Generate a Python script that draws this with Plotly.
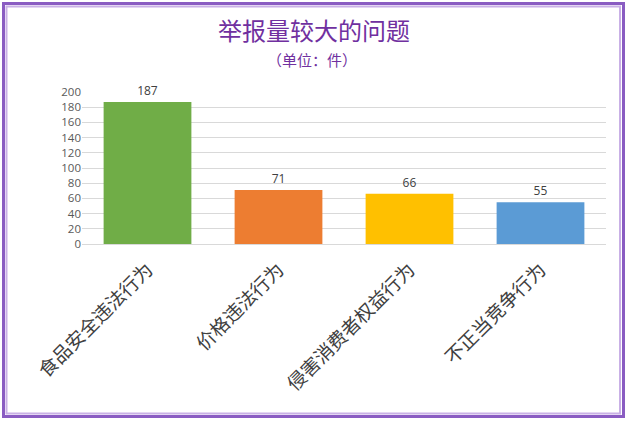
import plotly.graph_objects as go

categories = ["食品安全违法行为", "价格违法行为", "侵害消费者权益行为", "不正当竞争行为"]
values = [187, 71, 66, 55]
colors = ["#70AD47", "#ED7D31", "#FFC000", "#5B9BD5"]
y_ticks = [0, 20, 40, 60, 80, 100, 120, 140, 160, 180, 200]

W, H = 628, 421
L, R, T, B = 82, 22, 92, 177
PW, PH = W - L - R, H - T - B

def px(x):
    return (x - L) / PW

def py(y):
    return (H - B - y) / PH

fig = go.Figure()
fig.add_trace(go.Bar(
    x=categories, y=values,
    marker=dict(color=colors, line=dict(width=0)),
    text=[str(v) for v in values], textposition="outside",
    textfont=dict(family="Open Sans, Liberation Sans, sans-serif", size=12, color="#404040"),
    cliponaxis=False,
))

fig.update_layout(
    width=W, height=H,
    margin=dict(l=L, r=R, t=T, b=B),
    paper_bgcolor="white", plot_bgcolor="white",
    showlegend=False,
    bargap=0.33,
    xaxis=dict(
        tickangle=-45,
        tickfont=dict(family="Noto Sans CJK SC", size=19, color="#404040"),
        showline=True, linecolor="#D9D9D9", linewidth=1,
        ticks="", showgrid=False, ticklabelstandoff=6,
    ),
    yaxis=dict(
        range=[0, 200], tickvals=y_ticks,
        tickfont=dict(family="Open Sans, Liberation Sans, sans-serif", size=11.5, color="#595959"),
        showgrid=True, gridcolor="#D9D9D9", gridwidth=1,
        zeroline=False, showline=False, ticks="",
    ),
    annotations=[
        dict(text="举报量较大的问题", xref="paper", yref="paper",
             x=px(314), y=py(29), xanchor="center", yanchor="middle", showarrow=False,
             font=dict(family="Noto Sans CJK SC", size=24, color="#7030A0")),
        dict(text="（单位：件）", xref="paper", yref="paper",
             x=px(312), y=py(59), xanchor="center", yanchor="middle", showarrow=False,
             font=dict(family="Noto Sans CJK SC", size=15, color="#7030A0")),
    ],
    shapes=[
        dict(type="rect", xref="paper", yref="paper",
             x0=px(3.5), x1=px(623.5), y0=py(3.5), y1=py(416.5),
             line=dict(color="#8A5CC2", width=3), layer="above"),
        dict(type="rect", xref="paper", yref="paper",
             x0=px(6.5), x1=px(620), y0=py(6.5), y1=py(413.5),
             line=dict(color="#C9B0E6", width=2), layer="above"),
    ],
)

fig.write_html("out.html", config={"displayModeBar": False},
               post_script="document.body.style.margin='0';")
